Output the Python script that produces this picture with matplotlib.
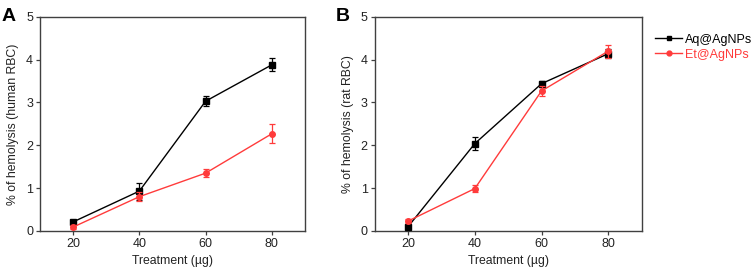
import matplotlib
matplotlib.use("Agg")
import matplotlib.pyplot as plt
from matplotlib.lines import Line2D

plt.rcParams['font.family'] = ['Liberation Sans', 'DejaVu Sans']

treatment = [20, 40, 60, 80]
xticks = [20, 40, 60, 80]
yticks = [0, 1, 2, 3, 4, 5]

# Panel A (human RBC)
a_aq = [0.21, 0.93, 3.03, 3.88]
a_aq_err = [0.04, 0.20, 0.12, 0.15]
a_et = [0.09, 0.80, 1.35, 2.27]
a_et_err = [0.04, 0.11, 0.09, 0.22]

# Panel B (rat RBC)
b_aq = [0.10, 2.04, 3.44, 4.14]
b_aq_err = [0.03, 0.16, 0.07, 0.10]
b_et = [0.23, 0.99, 3.27, 4.20]
b_et_err = [0.04, 0.09, 0.12, 0.15]

labels = ['Aq@AgNPs', 'Et@AgNPs']
black = '#000000'
red = '#ff3b3b'
spine_c = '#404040'

fig = plt.figure(figsize=(7.54, 2.72), dpi=100)
axA = fig.add_axes([0.053, 0.151, 0.3515, 0.787])
axB = fig.add_axes([0.497, 0.151, 0.354, 0.787])

def draw(ax, aq, aqe, et, ete, ylabel, letter):
    ax.errorbar(treatment, aq, yerr=aqe, color=black, marker='s', markersize=4,
                lw=1.0, capsize=2.5, elinewidth=0.9, capthick=0.9, zorder=3)
    ax.errorbar(treatment, et, yerr=ete, color=red, marker='o', markersize=4,
                lw=1.0, capsize=2.5, elinewidth=0.9, capthick=0.9, zorder=4)
    ax.set_xlim(10, 90)
    ax.set_ylim(0, 5)
    ax.set_xticks(xticks)
    ax.set_yticks(yticks)
    for s in ax.spines.values():
        s.set_color(spine_c)
        s.set_linewidth(1.0)
    ax.tick_params(direction='out', length=3, width=0.9, color=spine_c,
                   labelsize=9, labelcolor='#222222', pad=2)
    ax.set_xlabel('Treatment (µg)', fontsize=8.8, color='#222222', labelpad=4)
    ax.set_ylabel(ylabel, fontsize=8.8, color='#222222', labelpad=5)
    ax.text(-0.145, 1.0, letter, transform=ax.transAxes, fontsize=14,
            fontweight='bold', va='center', ha='left')

draw(axA, a_aq, a_aq_err, a_et, a_et_err, '% of hemolysis (human RBC)', 'A')
draw(axB, b_aq, b_aq_err, b_et, b_et_err, '% of hemolysis (rat RBC)', 'B')

handles = [Line2D([], [], color=black, marker='s', markersize=3.5, lw=1.0),
           Line2D([], [], color=red, marker='o', markersize=3.5, lw=1.0)]
leg = fig.legend(handles, labels, loc='upper left', bbox_to_anchor=(0.862, 0.895), frameon=False,
                 fontsize=9, handlelength=2.2, handletextpad=0.2, borderaxespad=0,
                 labelspacing=0.25)
for t, c in zip(leg.get_texts(), [black, red]):
    t.set_color(c)

fig.savefig('out.png', dpi=100)
